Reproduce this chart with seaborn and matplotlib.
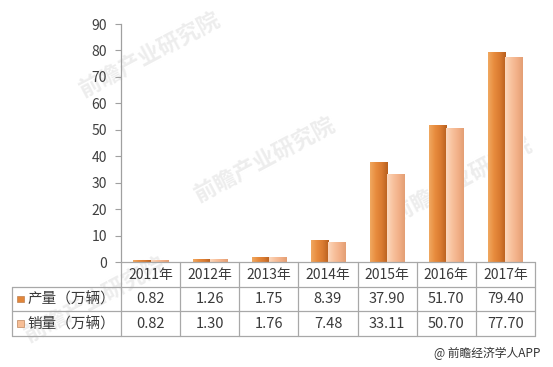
import matplotlib
matplotlib.use("Agg")
import matplotlib.pyplot as plt
import seaborn as sns
import numpy as np
import pandas as pd
from matplotlib.colors import LinearSegmentedColormap

years = ["2011年", "2012年", "2013年", "2014年", "2015年", "2016年", "2017年"]
series_names = ["产量（万辆）", "销量（万辆）"]
production = [0.82, 1.26, 1.75, 8.39, 37.90, 51.70, 79.40]
sales = [0.82, 1.30, 1.76, 7.48, 33.11, 50.70, 77.70]
yticks = list(range(0, 91, 10))
footer = "@ 前瞻经济学人APP"
watermark = "前瞻产业研究院"

sns.set_theme(style="white")
plt.rcParams['font.family'] = ['Noto Sans CJK SC', 'DejaVu Sans']

df = pd.DataFrame({
    "year": years * 2,
    "series": [series_names[0]] * len(years) + [series_names[1]] * len(years),
    "value": production + sales,
})

W, H = 553, 367
fig = plt.figure(figsize=(W / 100, H / 100), dpi=100)
fig.patch.set_facecolor("white")

# Watermarks (faint, behind everything)
for (x, y) in [(150, 55), (265, 160), (462, 180), (95, 300)]:
    fig.text(x / W, 1 - y / H, watermark, ha="center", va="center", fontsize=16,
             rotation=28, color="#EDEDED", fontweight="bold", zorder=-1)

ax = fig.add_axes([121 / W, 1 - 262 / H, (535 - 121) / W, (262 - 24) / H])
dark = "#E2863A"
light = "#F6BE96"
sns.barplot(data=df, x="year", y="value", hue="series", palette=[dark, light],
            width=0.58, ax=ax, legend=False, saturation=1)

cmap_dark = LinearSegmentedColormap.from_list("d", ["#F0A860", "#E88C3E", "#D97A30", "#B8601E"])
cmap_light = LinearSegmentedColormap.from_list("l", ["#FCD8BE", "#F8C29E", "#F2B088", "#E39E74"])
grad = np.linspace(0, 1, 64).reshape(1, -1)
n = len(years)
for i, p in enumerate(ax.patches[:2 * n]):
    x0, y0 = p.get_x(), p.get_y()
    w, h = p.get_width(), p.get_height()
    cm = cmap_dark if i < n else cmap_light
    im = ax.imshow(grad, cmap=cm, aspect="auto", extent=[x0, x0 + w, y0, y0 + h],
                   zorder=p.get_zorder() + 0.1, interpolation="bilinear")
    im.set_clip_path(p)

ax.set_xlim(-0.5, n - 0.5)
ax.set_ylim(0, 90)
ax.set_yticks(yticks)
ax.set_yticklabels([str(t) for t in yticks], fontsize=10, color="#404040")
ax.set_xticks([])
ax.set_xlabel("")
ax.set_ylabel("")
for s in ["top", "right", "bottom"]:
    ax.spines[s].set_visible(False)
ax.spines["left"].set_color("#A0A0A0")
ax.spines["left"].set_linewidth(0.9)
ax.tick_params(axis="y", direction="out", length=4, width=0.8, color="#A0A0A0", pad=6, left=True)
ax.set_facecolor("none")

# Data table
lab_w = (121 - 12) / ((535 - 121) / n)
tx = fig.add_axes([12 / W, 1 - 336 / H, (535 - 12) / W, (336 - 262) / H])
tx.set_xlim(-0.5 - lab_w, n - 0.5)
tx.set_ylim(3, 0)
tx.axis("off")
lc = "#A8A8A8"
lw = 0.9
tx.plot([-0.5, n - 0.5], [0, 0], color=lc, lw=lw, clip_on=False)
for r in [1, 2, 3]:
    tx.plot([-0.5 - lab_w, n - 0.5], [r, r], color=lc, lw=lw, clip_on=False)
tx.plot([-0.5 - lab_w] * 2, [1, 3], color=lc, lw=lw, clip_on=False)
for k in range(n + 1):
    tx.plot([-0.5 + k] * 2, [0, 3], color=lc, lw=lw, clip_on=False)
tc = "#3A3A3A"
fs = 10.5
for k, yr in enumerate(years):
    tx.text(k, 0.52, yr, ha="center", va="center", fontsize=10, color=tc)
    tx.text(k, 1.52, f"{production[k]:.2f}", ha="center", va="center", fontsize=fs, color=tc)
    tx.text(k, 2.52, f"{sales[k]:.2f}", ha="center", va="center", fontsize=fs, color=tc)
col_px = (535 - 121) / n
sw = 7 / col_px
sx = -0.5 - lab_w + 5 / col_px
for r, (name, col) in enumerate(zip(series_names, [dark, light])):
    tx.add_patch(plt.Rectangle((sx, r + 1.5 - 0.14), sw, 0.28, facecolor=col,
                               edgecolor="#B07040", lw=0.4))
    tx.text(sx + sw + 3 / col_px, r + 1.52, name, ha="left", va="center",
            fontsize=fs, color=tc)

# Footer
fig.text(540 / W, 1 - 353 / H, footer, ha="right", va="center", fontsize=8.5, color="#333333")

fig.savefig("out.png", dpi=100, facecolor="white")
